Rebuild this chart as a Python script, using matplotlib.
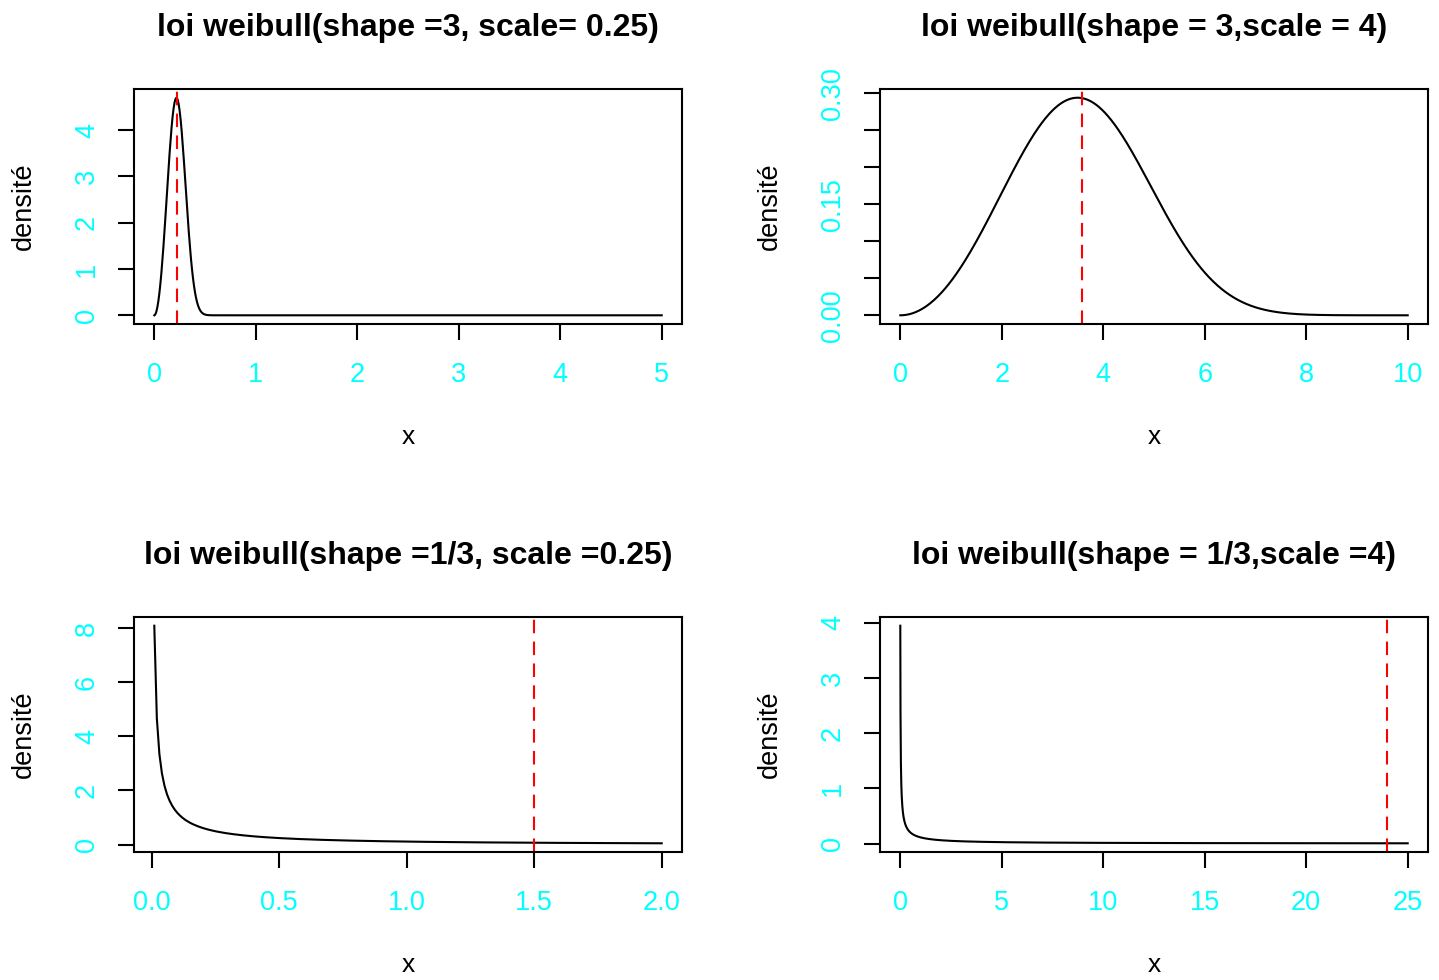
import math
import numpy as np
import matplotlib
matplotlib.use("Agg")
import matplotlib.pyplot as plt

plt.rcParams['font.family'] = ['Liberation Sans', 'DejaVu Sans']

# Weibull parameters of the four panels
shapes = [3, 3, 1 / 3, 1 / 3]
scales = [0.25, 4, 0.25, 4]
x_starts = [0.0, 0.0, 0.01, 0.01]
x_stops = [5.0, 10.0, 2.0, 25.0]
x_step = 0.01
titles = [
    "loi weibull(shape =3, scale= 0.25)",
    "loi weibull(shape = 3,scale = 4)",
    "loi weibull(shape =1/3, scale =0.25)",
    "loi weibull(shape = 1/3,scale =4)",
]
x_ticks = [
    [0, 1, 2, 3, 4, 5],
    [0, 2, 4, 6, 8, 10],
    [0.0, 0.5, 1.0, 1.5, 2.0],
    [0, 5, 10, 15, 20, 25],
]
x_ticklabels = [
    ["0", "1", "2", "3", "4", "5"],
    ["0", "2", "4", "6", "8", "10"],
    ["0.0", "0.5", "1.0", "1.5", "2.0"],
    ["0", "5", "10", "15", "20", "25"],
]
y_ticks = [
    [0, 1, 2, 3, 4],
    [0.00, 0.05, 0.10, 0.15, 0.20, 0.25, 0.30],
    [0, 2, 4, 6, 8],
    [0, 1, 2, 3, 4],
]
y_ticklabels = [
    ["0", "1", "2", "3", "4"],
    ["0.00", "", "", "0.15", "", "", "0.30"],
    ["0", "2", "4", "6", "8"],
    ["0", "1", "2", "3", "4"],
]


def weibull_pdf(x, k, lam):
    z = x / lam
    return (k / lam) * z ** (k - 1) * np.exp(-z ** k)


W, H = 1439, 980
fig = plt.figure(figsize=(W / 100, H / 100), dpi=100)

# plot regions in pixels: left, top, right, bottom
boxes = [
    (134, 89, 682, 324),
    (880, 89, 1428, 324),
    (134, 617, 682, 852),
    (880, 617, 1428, 852),
]

cyan = "#00FFFF"
lw = 1.5

for i in range(4):
    l, t, r, b = boxes[i]
    ax = fig.add_axes([l / W, 1 - b / H, (r - l) / W, (b - t) / H])
    x = np.arange(x_starts[i], x_stops[i] + x_step / 2, x_step)
    y = weibull_pdf(x, shapes[i], scales[i])
    mean = scales[i] * math.gamma(1 + 1 / shapes[i])

    ax.plot(x, y, color="black", lw=lw)
    ax.axvline(mean, color="red", lw=lw, linestyle=(0, (6.5, 4)))

    xr = x.max() - x.min()
    yr = y.max() - y.min()
    ax.set_xlim(x.min() - 0.04 * xr, x.max() + 0.04 * xr)
    ax.set_ylim(y.min() - 0.04 * yr, y.max() + 0.04 * yr)

    ax.set_xticks(x_ticks[i])
    ax.set_xticklabels(x_ticklabels[i])
    ax.set_yticks(y_ticks[i])
    ax.set_yticklabels(y_ticklabels[i], rotation=90, va="center")

    ax.tick_params(axis="both", direction="out", length=11.5, width=lw,
                   color="black", labelcolor=cyan, labelsize=19.5)
    ax.tick_params(axis="x", pad=16)
    ax.tick_params(axis="y", pad=13)
    for sp in ax.spines.values():
        sp.set_linewidth(lw)
        sp.set_color("black")

    h = b - t
    wdt = r - l
    ax.text(0.5, 1 + 61 / h, titles[i], transform=ax.transAxes,
            ha="center", va="center", fontsize=23, fontweight="bold")
    ax.text(0.5, -113 / h, "x", transform=ax.transAxes,
            ha="center", va="center", fontsize=19)
    ax.text(-110 / wdt, 0.5, "densité",
            transform=ax.transAxes, rotation=90, ha="center", va="center",
            fontsize=19.5)

fig.savefig("out.png", dpi=100, facecolor="white")
